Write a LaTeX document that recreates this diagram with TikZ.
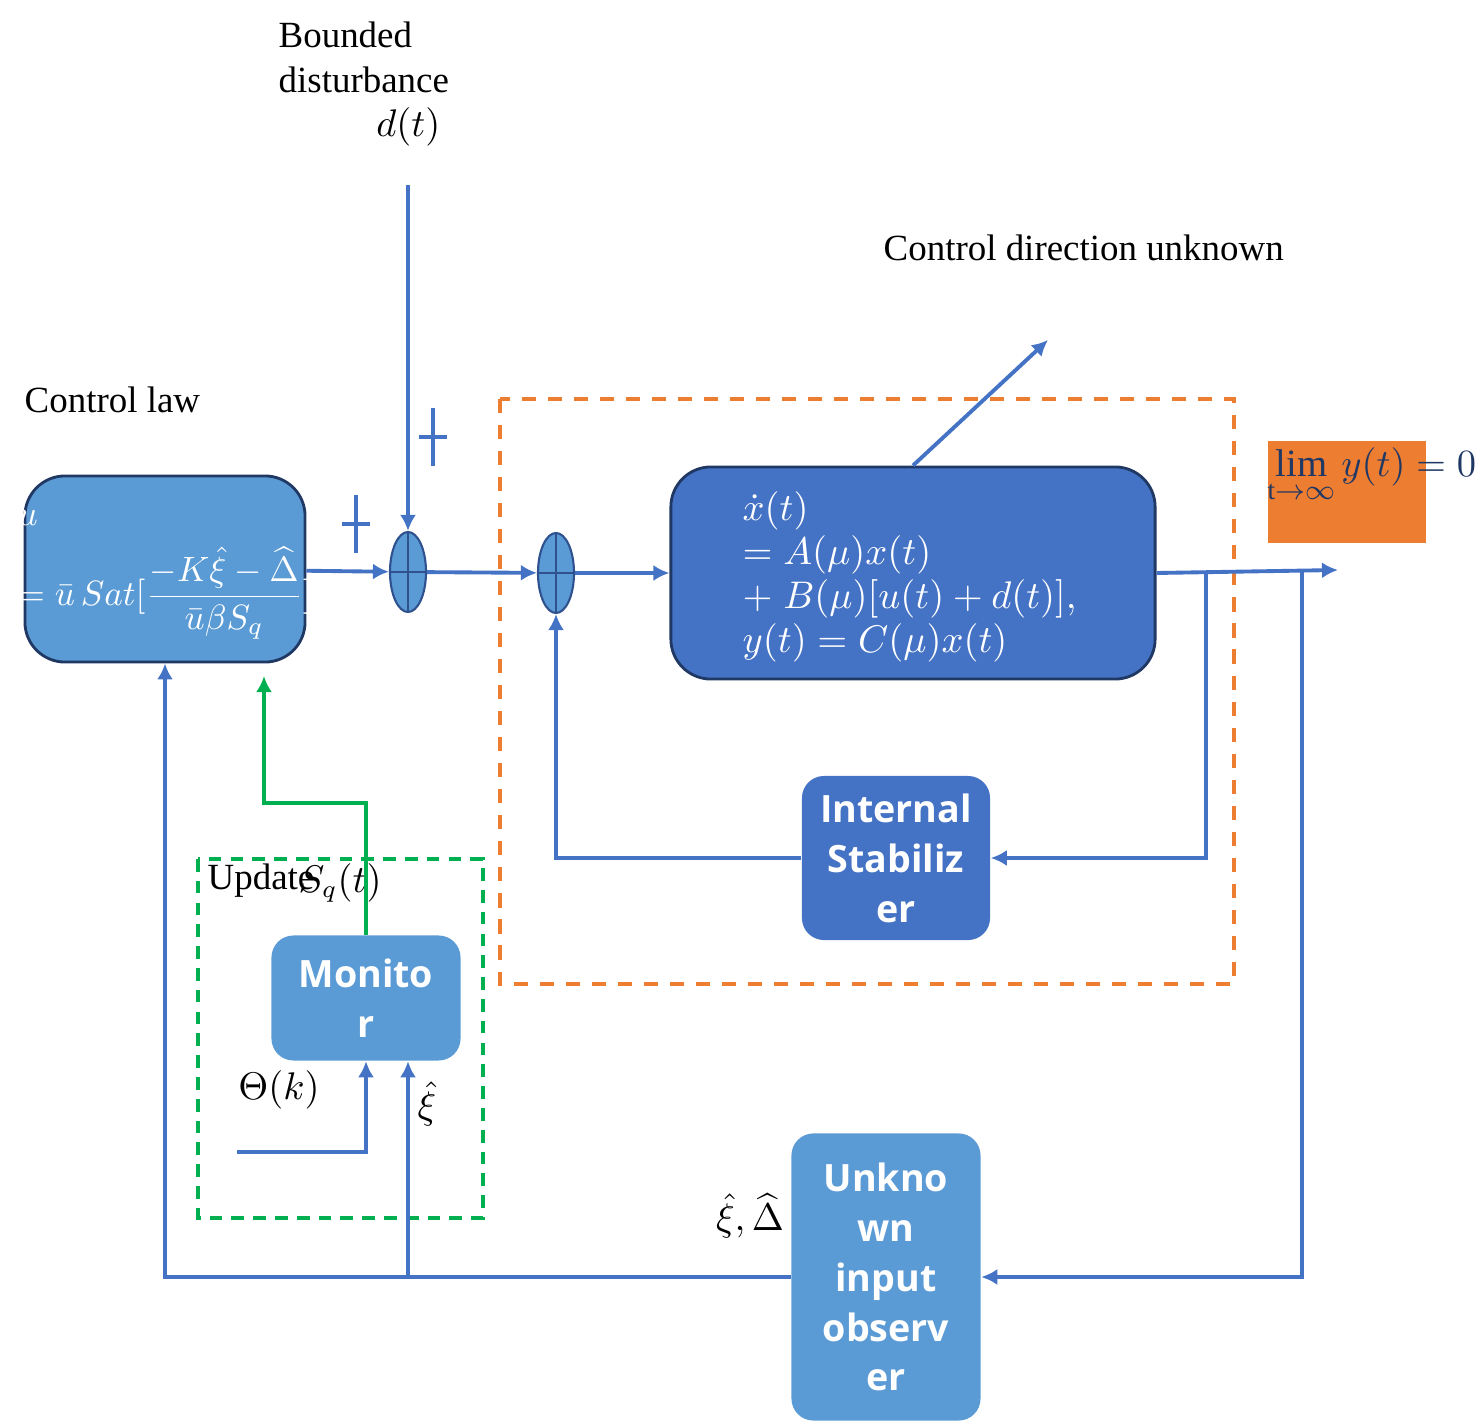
\documentclass[tikz,border=0pt]{standalone}
\usepackage{amsmath}
\usepackage{amssymb}
\usepackage{fontspec}
\setmainfont{Liberation Serif}
\newfontfamily\blockfont{Open Sans}
\usepackage{xcolor}
\usepackage{tikz}
\usetikzlibrary{arrows.meta,positioning,shapes.geometric,calc}

\definecolor{lineblue}{HTML}{4472C4}
\definecolor{lightblue}{HTML}{5B9BD5}
\definecolor{plantblue}{HTML}{4472C4}
\definecolor{edgeblue}{HTML}{203864}
\definecolor{sumedge}{HTML}{2F528F}
\definecolor{boxorange}{HTML}{ED7D31}
\definecolor{boxgreen}{HTML}{00B050}

\begin{document}
\begin{tikzpicture}[x=0.01cm, y=-0.01cm,
    block/.style={rectangle, rounded corners=0.22cm, fill=lightblue, text=white, align=center, inner sep=0pt, font=\blockfont\bfseries\fontsize{10.7}{14.2}\selectfont},
    sysblock/.style={rectangle, rounded corners=0.4cm, draw=edgeblue, line width=0.8pt, inner sep=0pt},
    cross/.style={path picture={\draw[#1] (path picture bounding box.north) -- (path picture bounding box.south) (path picture bounding box.west) -- (path picture bounding box.east);}},
    sum/.style={ellipse, draw=sumedge, line width=0.6pt, fill=lightblue, minimum width=0.36cm, minimum height=0.8cm, inner sep=0pt, cross={sumedge, line width=0.6pt}},
    sign/.style={rectangle, minimum width=0.28cm, minimum height=0.58cm, inner sep=0pt, cross={lineblue, line width=1pt}},
    arrow/.style={-{Latex[length=1.6mm, width=1.6mm]}, lineblue, line width=1.1pt},
    lbl/.style={font=\fontsize{10.5}{12.8}\selectfont, inner sep=0pt}
]
\useasboundingbox (0,0) rectangle (1484,1427);

% frames
\draw[boxorange, line width=0.9pt, dash pattern=on 4pt off 3.4pt] (500,399) rectangle (1234,984);
\draw[boxgreen, line width=0.9pt, dash pattern=on 3.6pt off 2.6pt] (198,859) rectangle (483,1218);

% blocks
\node[sysblock, fill=lightblue, minimum width=2.80cm, minimum height=1.86cm] (law) at (165,569) {};
\node[anchor=north west, text=white, align=left, inner sep=0pt, font=\fontsize{10}{12}\selectfont] (lawtext) at (17,510)
    {$u$\\[5pt]$=\bar{u}\,Sat[\dfrac{-K\hat{\xi}-\widehat{\Delta}}{\bar{u}\beta S_q}]$};
\node[sysblock, fill=plantblue, minimum width=4.84cm, minimum height=2.12cm] (plant) at (913,573) {};
\node[anchor=north west, text=white, align=left, inner sep=0pt, font=\fontsize{10.5}{12.5}\selectfont] (planttext) at (742,491)
    {$\dot{x}(t)$\\$=A(\mu)x(t)$\\$+\;B(\mu)[u(t)+d(t)],$\\$y(t)=C(\mu)x(t)$};
\node[block, fill=plantblue, minimum width=1.88cm, minimum height=1.64cm] (stab) at (896,858) {Internal\\Stabiliz\\er};
\node[block, minimum width=1.89cm, minimum height=1.25cm] (monitor) at (366,998) {Monito\\r};
\node[block, minimum width=1.89cm, minimum height=2.87cm] (uio) at (886,1277) {Unkno\\wn\\input\\observ\\er};
\node[rectangle, fill=boxorange, minimum width=1.57cm, minimum height=1.01cm, inner sep=0pt] (limbox) at (1347,492) {};
\node[anchor=north west, text=edgeblue, inner sep=0pt, font=\fontsize{11}{13}\selectfont] (limtext) at (1267,447)
    {$\displaystyle\lim_{\mathrm{t}\to\infty} y(t)=0$};

% summing points
\node[sum] (sum1) at (408,572) {};
\node[sum] (sum2) at (556,573) {};
\node[sign] (plusd) at (433,437) {};
\node[sign] (plusu) at (356,524) {};

% labels
\node[lbl, anchor=north west, align=left] (dist) at (278,21) {Bounded\\disturbance};
\node[lbl, anchor=east] (dt) at (441,127) {$d(t)$};
\node[lbl, anchor=west] (lawlbl) at (24,400) {Control law};
\node[lbl, anchor=west] (dirlbl) at (883,248) {Control direction unknown};
\node[lbl, anchor=west] (updlbl) at (207,881) {Update};
\node[lbl] (sqlbl) at (340,883) {$S_q(t)$};
\node[lbl] (thetalbl) at (279,1090) {$\Theta(k)$};
\node[lbl] (xilbl) at (427,1104) {$\hat{\xi}$};
\node[lbl] (xdlbl) at (750,1216) {$\hat{\xi},\widehat{\Delta}$};

% free ends
\coordinate (dtop) at (408,185);
\coordinate (dir) at (1048,340);
\coordinate (out) at (1338,570);
\coordinate (b1) at (1206,571);
\coordinate (b2) at (1302,571);
\coordinate (thin) at (237,1152);
\coordinate (xib) at (408,1277);
\coordinate (sqin) at (264,676);

% forward path
\foreach \a/\b in {law/sum1,sum1/sum2,sum2/plant}{\draw[arrow] (\a) -- (\b);}
\draw[arrow] (dtop) -- (sum1.north);
\draw[arrow] (plant.north) -- (dir);
\draw[arrow] (plant.east) -- (out);

% feedback
\draw[arrow] (b1) |- (stab.east);
\draw[arrow] (stab.west) -| (sum2.south);
\draw[arrow] (b2) |- (uio.east);
\draw[arrow] (uio.west) -| (law.south);
\draw[arrow] (xib) -- (xib |- monitor.south);
\draw[arrow] (thin) -| (monitor.south);
\draw[-{Latex[length=1.6mm, width=1.6mm]}, boxgreen, line width=1.1pt] (monitor.north) |- (264,803) -- (sqin);
\end{tikzpicture}
\end{document}
